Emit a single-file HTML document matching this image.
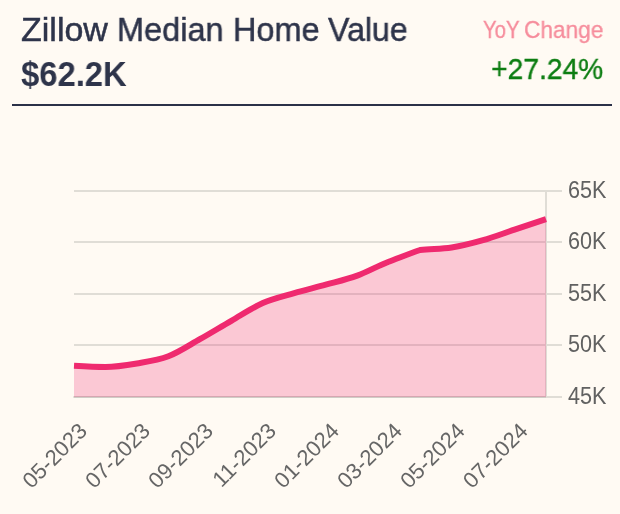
<!DOCTYPE html>
<html><head><meta charset="utf-8">
<style>
html,body{margin:0;padding:0;width:620px;height:514px;overflow:hidden;background:#fffaf3;}
body{font-family:"Liberation Sans",sans-serif;position:relative;}
.t{position:absolute;white-space:nowrap;line-height:1;}
.tw{top:12px;font-size:34px;color:#2e344a;-webkit-text-stroke:0.5px #2e344a;transform-origin:0 0;}
#val{left:21px;top:56px;font-size:35px;font-weight:bold;color:#2e344a;transform:scaleX(0.937);transform-origin:0 0;}
.yy{top:18px;font-size:24.5px;color:#f68d9c;-webkit-text-stroke:0.35px #f68d9c;transform-origin:0 0;}
#chg{right:16.5px;top:54px;font-size:30px;color:#0d7d12;-webkit-text-stroke:0.4px #0d7d12;transform:scaleX(0.94);transform-origin:100% 0;}
#rule{position:absolute;left:12px;top:104px;width:600px;height:2px;background:#2b3148;}
svg{position:absolute;left:0;top:0;will-change:transform;}
.t{will-change:transform;}
</style></head><body>
<div class="t tw" style="left:21px;transform:scaleX(1.0)">Zillow</div>
<div class="t tw" style="left:116.5px;transform:scaleX(0.956)">Median</div>
<div class="t tw" style="left:232.5px;transform:scaleX(0.955)">Home</div>
<div class="t tw" style="left:328px;transform:scaleX(0.944)">Value</div>
<div class="t" id="val">$62.2K</div>
<div class="t yy" style="left:483px;transform:scaleX(0.829)">YoY</div>
<div class="t yy" style="left:524px;transform:scaleX(0.925)">Change</div>
<div class="t" id="chg">+27.24%</div>
<div id="rule"></div>
<svg width="620" height="514" viewBox="0 0 620 514">
<g stroke="#e0ddd6" stroke-width="2">
<line x1="74" y1="191" x2="562" y2="191"/>
<line x1="74" y1="242" x2="562" y2="242"/>
<line x1="74" y1="294" x2="562" y2="294"/>
<line x1="74" y1="345" x2="562" y2="345"/>
<line x1="74" y1="397" x2="562" y2="397"/>
<line x1="546" y1="190" x2="546" y2="398"/>
</g>
<line x1="73.5" y1="397" x2="546" y2="397" stroke="#cfcdc6" stroke-width="2"/>
<path fill="#ef2a6f" fill-opacity="0.24" d="M74.00,365.80C84.49,366.40 94.98,367.00 105.47,367.00C115.96,367.00 126.44,365.28 136.93,363.50C147.42,361.72 157.91,360.35 168.40,356.30C178.89,352.25 189.38,345.12 199.87,339.20C210.36,333.28 220.84,326.83 231.33,320.80C241.82,314.77 252.31,307.62 262.80,303.00C273.29,298.38 283.78,296.15 294.27,293.10C304.76,290.05 315.24,287.62 325.73,284.70C336.22,281.78 346.71,279.43 357.20,275.60C367.69,271.77 378.18,265.58 388.67,261.70C399.16,257.82 409.64,253.57 420.13,250.00C430.62,248.74 441.11,249.13 451.60,247.50C462.09,245.87 472.58,243.18 483.07,240.20C493.56,237.22 504.04,233.10 514.53,229.60C525.02,226.10 535.51,222.65 546.00,219.20L546,397L74,397Z"/>
<path fill="none" stroke="#ef2a6f" stroke-width="6" d="M74.00,365.80C84.49,366.40 94.98,367.00 105.47,367.00C115.96,367.00 126.44,365.28 136.93,363.50C147.42,361.72 157.91,360.35 168.40,356.30C178.89,352.25 189.38,345.12 199.87,339.20C210.36,333.28 220.84,326.83 231.33,320.80C241.82,314.77 252.31,307.62 262.80,303.00C273.29,298.38 283.78,296.15 294.27,293.10C304.76,290.05 315.24,287.62 325.73,284.70C336.22,281.78 346.71,279.43 357.20,275.60C367.69,271.77 378.18,265.58 388.67,261.70C399.16,257.82 409.64,253.57 420.13,250.00C430.62,248.74 441.11,249.13 451.60,247.50C462.09,245.87 472.58,243.18 483.07,240.20C493.56,237.22 504.04,233.10 514.53,229.60C525.02,226.10 535.51,222.65 546.00,219.20"/>
<g font-family="Liberation Sans" font-size="23.5" fill="#616161">
<text transform="translate(568,198) scale(0.92,1)">65K</text>
<text transform="translate(568,249) scale(0.92,1)">60K</text>
<text transform="translate(568,301) scale(0.92,1)">55K</text>
<text transform="translate(568,352) scale(0.92,1)">50K</text>
<text transform="translate(568,404) scale(0.92,1)">45K</text>
</g>
<g font-family="Liberation Sans" font-size="22" fill="#666" text-anchor="end">
<text transform="translate(88.50,432.3) rotate(-45)">05-2023</text>
<text transform="translate(151.46,432.3) rotate(-45)">07-2023</text>
<text transform="translate(214.42,432.3) rotate(-45)">09-2023</text>
<text transform="translate(277.38,432.3) rotate(-45)">11-2023</text>
<text transform="translate(340.34,432.3) rotate(-45)">01-2024</text>
<text transform="translate(403.30,432.3) rotate(-45)">03-2024</text>
<text transform="translate(466.26,432.3) rotate(-45)">05-2024</text>
<text transform="translate(529.22,432.3) rotate(-45)">07-2024</text>
</g>
</svg>
</body></html>
